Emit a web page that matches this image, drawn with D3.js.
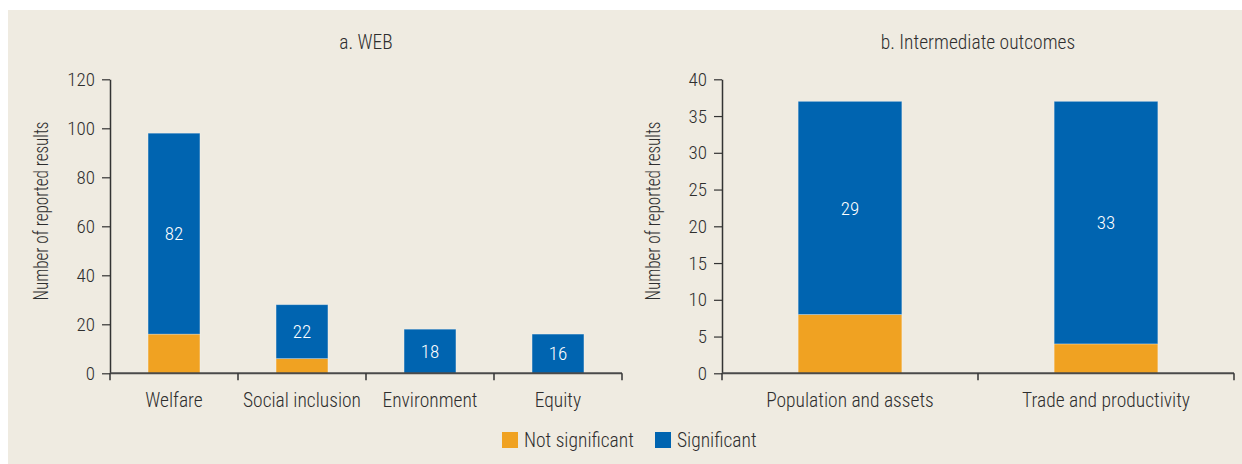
<!DOCTYPE html>
<html>
<head>
<meta charset="utf-8">
<script src="https://cdn.jsdelivr.net/npm/d3@7"></script>
<style>
  html, body { margin: 0; padding: 0; background: #ffffff; }
  svg { display: block; }
  text { font-family: "Roboto Condensed", "Liberation Sans Narrow", "DejaVu Sans Condensed", "Roboto", sans-serif; fill: #2e2e2e; font-weight: 300; }
</style>
</head>
<body>
<svg id="chart" width="1242" height="464"></svg>
<script>
// Panel a: wider economic benefits
const webCategories = ["Welfare", "Social inclusion", "Environment", "Equity"];
const webNotSignificant = [16, 6, 0, 0];
const webSignificant = [82, 22, 18, 16];
const webTicks = [0, 20, 40, 60, 80, 100, 120];

// Panel b: intermediate outcomes
const midCategories = ["Population and assets", "Trade and productivity"];
const midNotSignificant = [8, 4];
const midSignificant = [29, 33];
const midTicks = [0, 5, 10, 15, 20, 25, 30, 35, 40];

const seriesNames = ["Not significant", "Significant"];
const colors = { "Not significant": "#F0A222", "Significant": "#0064B0" };

const svg = d3.select("#chart");
svg.append("rect").attr("x", 8).attr("y", 10).attr("width", 1234).attr("height", 454).attr("fill", "#EFEBE1");

function drawPanel(opts) {
  const g = svg.append("g");
  const x = d3.scaleBand().domain(opts.categories).range([opts.x0, opts.x1]).padding(0);
  const y = d3.scaleLinear().domain([0, opts.max]).range([373.3, 79.3]);

  const rows = opts.categories.map((c, i) => ({
    category: c,
    "Not significant": opts.notSig[i],
    "Significant": opts.sig[i]
  }));
  const stacked = d3.stack().keys(seriesNames)(rows);
  const barW = x.bandwidth() * 0.405;

  stacked.forEach(layer => {
    g.selectAll(null).data(layer.filter(d => d[1] - d[0] > 0)).enter().append("rect")
      .attr("x", d => x(d.data.category) + (x.bandwidth() - barW) / 2)
      .attr("y", d => y(d[1]))
      .attr("width", barW)
      .attr("height", d => y(d[0]) - y(d[1]))
      .attr("fill", colors[layer.key])
      .attr("stroke", "rgba(255,255,255,0.35)")
      .attr("stroke-width", 0.8);
  });

  // value labels on the significant segment
  const sigLayer = stacked[1];
  g.selectAll(null).data(sigLayer).enter().append("text")
    .attr("x", d => x(d.data.category) + x.bandwidth() / 2)
    .attr("y", d => y((d[0] + d[1]) / 2))
    .attr("dy", "0.35em")
    .attr("text-anchor", "middle")
    .style("fill", "#ffffff")
    .style("font-size", "19px")
    .text(d => d.data["Significant"]);

  // y axis
  const yAxis = g.append("g").attr("transform", `translate(${opts.x0},0)`)
    .call(d3.axisLeft(y).tickValues(opts.ticks).tickSize(8).tickPadding(7).tickSizeOuter(0));
  yAxis.select(".domain").attr("stroke", "#333").attr("stroke-width", 1.5);
  yAxis.selectAll(".tick line").attr("stroke", "#333").attr("stroke-width", 1.2);
  yAxis.selectAll(".tick text").style("font-size", "19px").style("fill", "#2e2e2e").attr("font-family", null);

  // x axis with ticks at band boundaries
  const xAxis = g.append("g").attr("transform", `translate(0,${y(0)})`);
  xAxis.append("line").attr("x1", opts.x0).attr("x2", opts.x1).attr("stroke", "#4a4a4a").attr("stroke-width", 2);
  const bounds = opts.categories.map(c => x(c)).concat([opts.x1]);
  xAxis.selectAll(null).data(bounds).enter().append("line")
    .attr("x1", d => d).attr("x2", d => d).attr("y1", 0).attr("y2", 7)
    .attr("stroke", "#333").attr("stroke-width", 1.5);
  xAxis.selectAll(null).data(opts.categories).enter().append("text")
    .attr("x", d => x(d) + x.bandwidth() / 2)
    .attr("y", 27)
    .attr("dy", "0.35em")
    .attr("text-anchor", "middle")
    .style("font-size", "19.5px")
    .text(d => d);

  // title
  g.append("text").attr("x", (opts.x0 + opts.x1) / 2).attr("y", 42)
    .attr("dy", "0.35em")
    .attr("text-anchor", "middle").style("font-size", "19.5px").text(opts.title);

  // y axis title, compressed to the column it occupies
  g.append("text")
    .attr("transform", `translate(${opts.titleX},211) rotate(-90)`)
    .attr("x", -89.5)
    .attr("dy", "0.35em")
    .attr("textLength", 179)
    .attr("lengthAdjust", "spacingAndGlyphs")
    .style("font-size", "19.5px")
    .text("Number of reported results");
}

drawPanel({ categories: webCategories, notSig: webNotSignificant, sig: webSignificant,
  ticks: webTicks, max: 120, x0: 110, x1: 622, titleX: 41.5, title: "a. WEB" });
drawPanel({ categories: midCategories, notSig: midNotSignificant, sig: midSignificant,
  ticks: midTicks, max: 40, x0: 722, x1: 1234, titleX: 653.5, title: "b. Intermediate outcomes" });

// legend
const legend = svg.append("g").attr("transform", "translate(502,432)");
const items = [{ name: "Not significant", dx: 0 }, { name: "Significant", dx: 153 }];
items.forEach(it => {
  legend.append("rect").attr("x", it.dx).attr("y", 0).attr("width", 16).attr("height", 16).attr("fill", colors[it.name]);
  legend.append("text").attr("x", it.dx + 22).attr("y", 8).attr("dy", "0.35em").style("font-size", "19.5px").text(it.name);
});
</script>
</body>
</html>
